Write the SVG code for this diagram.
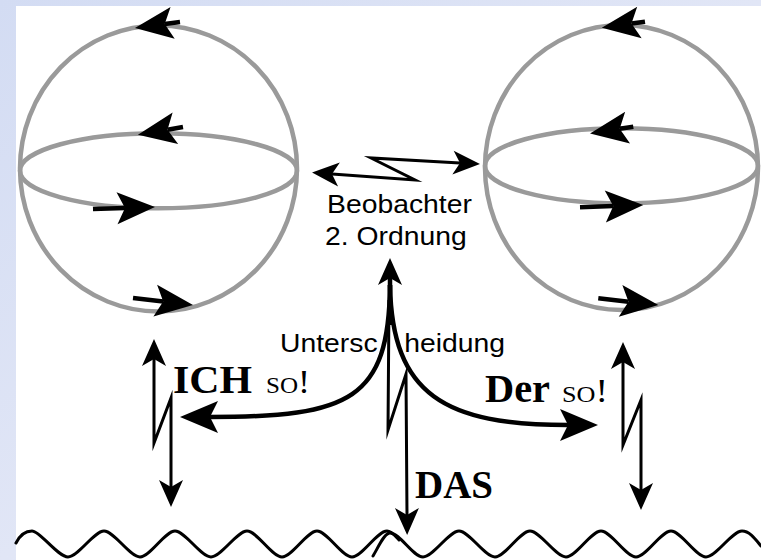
<svg xmlns="http://www.w3.org/2000/svg" width="761" height="560" viewBox="0 0 761 560">
<defs>
<linearGradient id="bg" x1="0" y1="0" x2="1" y2="1">
<stop offset="0" stop-color="#d3dcf3"/>
<stop offset="1" stop-color="#eff0f9"/>
</linearGradient>
<marker id="big" viewBox="-40 -20 45 40" refX="-30" refY="0" markerWidth="45" markerHeight="40" markerUnits="userSpaceOnUse" orient="auto" overflow="visible">
<path d="M0,0 L-38,-16 L-30,0 L-38,16 Z" fill="#000"/>
</marker>
<marker id="small" viewBox="-30 -15 35 30" refX="-20" refY="0" markerWidth="35" markerHeight="30" markerUnits="userSpaceOnUse" orient="auto-start-reverse" overflow="visible">
<path d="M0,0 L-27,-12 L-20,0 L-27,12 Z" fill="#000"/>
</marker>
<style>
.sph{fill:none;stroke:#9a9a9a;stroke-width:4.5}
.tail{fill:none;stroke:#000;stroke-width:4.5;marker-end:url(#big)}
.ln{fill:none;stroke:#000;stroke-width:3;stroke-linejoin:miter;stroke-miterlimit:8}
.curve{fill:none;stroke:#000;stroke-width:4.5;marker-end:url(#big)}
.sans{font-family:"Liberation Sans",Arial,sans-serif;font-size:26px;fill:#000}
.big{font-family:"Liberation Serif","Times New Roman",serif;font-weight:bold;font-size:39px;fill:#000}
.sc{font-family:"Liberation Serif","Times New Roman",serif;font-variant:small-caps;font-size:33px;fill:#000}
.wave{fill:none;stroke:#000;stroke-width:3;stroke-linejoin:round;stroke-linecap:round}
</style>
</defs>
<rect x="0" y="0" width="761" height="560" fill="url(#bg)"/>
<rect x="16" y="6" width="745" height="554" fill="#fff"/>

<g id="sphere-left">
<ellipse class="sph" cx="158.5" cy="168.5" rx="138.5" ry="143"/>
<ellipse class="sph" cx="158.5" cy="170.8" rx="138.5" ry="37.5"/>
<path class="tail" d="M180,22 L164.7,24"/>
<path class="tail" d="M183,127 L167.5,129.7"/>
<path class="tail" d="M93,209 L125,208"/>
<path class="tail" d="M133,298 L163.2,301.5"/>
</g>

<g id="sphere-right">
<ellipse class="sph" cx="621.5" cy="167.5" rx="136.5" ry="142.5"/>
<ellipse class="sph" cx="621.5" cy="165.8" rx="136.5" ry="37.5"/>
<path class="tail" d="M645,21.7 L631.5,23.6"/>
<path class="tail" d="M633.3,126.7 L619.7,128.8"/>
<path class="tail" d="M580,207.3 L613.3,206.1"/>
<path class="tail" d="M598.3,298.3 L628.5,301.7"/>
</g>

<g id="observer">
<text class="sans" transform="translate(327,213) scale(1.09,1)">Beobachter</text>
<text class="sans" transform="translate(325,245) scale(1.09,1)">2. Ordnung</text>
</g>

<g id="distinction">
<text class="sans" transform="translate(280,352) scale(1.09,1)"><tspan x="0">Untersc</tspan><tspan x="114">heidung</tspan></text>
</g>

<g id="label-ich">
<text x="173" y="393"><tspan class="big" textLength="79" lengthAdjust="spacingAndGlyphs">ICH</tspan><tspan class="sc" x="266" textLength="44" lengthAdjust="spacingAndGlyphs">so!</tspan></text>
</g>

<g id="label-der">
<text x="485" y="402"><tspan class="big" textLength="65" lengthAdjust="spacingAndGlyphs">Der</tspan><tspan class="sc" x="562" textLength="46" lengthAdjust="spacingAndGlyphs">so!</tspan></text>
</g>

<g id="label-das">
<text class="big" x="415" y="498" textLength="78" lengthAdjust="spacingAndGlyphs">DAS</text>
</g>

<g id="ground">
<path class="wave" d="M16,543 Q22,531 32,531 C40,531 58,557 68,557 C78,557 94,531 104,531 C114,531 130,557 140,557 C150,557 165,531 175,531 C185,531 201,557 211,557 C221,557 237,531 247,531 C257,531 272,557 282,557 C292,557 307,531 317,531 C327,531 342,557 352,557 C362,557 377,531 387,531 C392,531 396,537 399,540"/>
<path class="wave" d="M373,556 C378,548 384,533 390,533 C400,533 413,557 423,557 C433,557 449,531 459,531 C469,531 485,557 495,557 C505,557 520,531 530,531 C540,531 556,557 566,557 C576,557 591,531 601,531 C611,531 626,557 636,557 C646,557 661,531 671,531 C681,531 696,557 706,557 C716,557 732,531 742,531 C750,531 756,540 761,546"/>
</g>

<g id="connectors">
<path class="ln" d="M332,174 L415,180 L371,158 L460,163" marker-start="url(#small)" marker-end="url(#small)"/>
<path fill="none" stroke="#000" stroke-width="4.5" d="M390,325 L390,278" marker-end="url(#small)"/>
<path class="curve" d="M390,285 C389,400 350,417 210,417"/>
<path class="curve" d="M390,285 C392,395 445,425 568,425"/>
<path class="ln" d="M389,300 L388,430 L406,374 L407,515" marker-end="url(#small)"/>
<path class="ln" d="M154,359 L154,443 L171,398 L171,487" marker-start="url(#small)" marker-end="url(#small)"/>
<path class="ln" d="M623,362 L623,445 L641,400 L641,490" marker-start="url(#small)" marker-end="url(#small)"/>
</g>
</svg>
